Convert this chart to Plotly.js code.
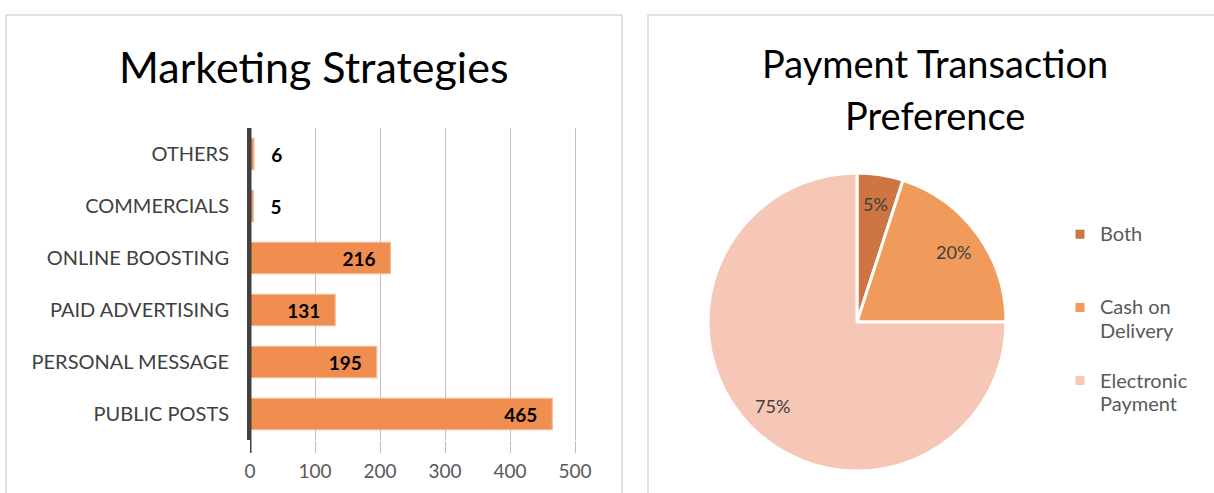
<!DOCTYPE html>
<html>
<head>
<meta charset="utf-8">
<script src="https://cdn.plot.ly/plotly-3.0.1.min.js"></script>
<style>html,body{margin:0;padding:0;background:#fff;}#chart{width:1214px;height:493px;}</style>
</head>
<body>
<div id="chart"></div>
<script>
// Bar chart data (top to bottom)
const strategyCategories = ["OTHERS", "COMMERCIALS", "ONLINE BOOSTING", "PAID ADVERTISING", "PERSONAL MESSAGE", "PUBLIC POSTS"];
const strategyCounts = [6, 5, 216, 131, 195, 465];
const xTickValues = [0, 100, 200, 300, 400, 500];

// Pie chart data
const paymentLabels = ["Both", "Cash on<br>Delivery", "Electronic<br>Payment"];
const paymentShares = [5, 20, 75];

const W = 1214, H = 493;
const px = v => v / W;
const py = v => 1 - v / H;
const FONT = "Lato, 'Open Sans', sans-serif";

// label padding: small bars get label outside with gap, big bars inside with end padding
const barText = strategyCounts.map(v => v < 50 ? "\u2003" + v : v + "\u2002\u2009");

const barTrace = {
  type: "bar",
  orientation: "h",
  y: strategyCategories,
  x: strategyCounts,
  xaxis: "x", yaxis: "y",
  marker: { color: "#EF8E4F", line: { color: "#F6B893", width: 1.2 } },
  width: 0.6,
  text: barText,
  textposition: strategyCounts.map(v => v < 50 ? "outside" : "inside"),
  insidetextanchor: "end",
  textangle: 0,
  constraintext: "none",
  insidetextfont: { family: FONT, size: 19, color: "#000", weight: "bold" },
  outsidetextfont: { family: FONT, size: 19, color: "#000", weight: "bold" },
  cliponaxis: false,
  hoverinfo: "x+y",
  showlegend: false
};

// legend: blank line keeps entries evenly spaced like the original
const legendText = paymentLabels.map(l => {
  const lines = l.split("<br>");
  const body = lines.map(s => "<span style='font-size:20px'>" + s + "</span>").join("<br>");
  return lines.length < 3 ? body + "<br> ".repeat(3 - lines.length) : body;
});

const pieDomain = { x: [px(708), px(1006)], y: [py(471), py(173)] };

const pieTrace = {
  type: "pie",
  labels: legendText,
  values: paymentShares,
  sort: false,
  direction: "clockwise",
  rotation: 0,
  domain: pieDomain,
  marker: { colors: ["#CD7543", "#F09B5C", "#F6C7B6"], line: { color: "#ffffff", width: 3 } },
  textinfo: "none",
  hoverinfo: "percent",
  showlegend: true
};

// percentage labels placed at 0.8 radius along each slice's mid-angle
const cxPx = (pieDomain.x[0] + pieDomain.x[1]) / 2 * W;
const cyPx = (1 - (pieDomain.y[0] + pieDomain.y[1]) / 2) * H;
const rPx = Math.min((pieDomain.x[1] - pieDomain.x[0]) * W, (pieDomain.y[1] - pieDomain.y[0]) * H) / 2;
const total = paymentShares.reduce((a, b) => a + b, 0);
let cum = 0;
const pctAnnotations = paymentShares.map(v => {
  const mid = (cum + v / 2) / total * 2 * Math.PI;
  cum += v;
  const ax = cxPx + 0.8 * rPx * Math.sin(mid);
  const ay = cyPx - 0.8 * rPx * Math.cos(mid);
  return { text: Math.round(v / total * 100) + "%", xref: "paper", yref: "paper",
    x: ax / W, y: 1 - ay / H, xanchor: "center", yanchor: "middle", showarrow: false,
    font: { family: FONT, size: 18, color: "#404040" } };
});

const layout = {
  width: W, height: H,
  margin: { l: 0, r: 0, t: 0, b: 0 },
  paper_bgcolor: "#fff",
  plot_bgcolor: "rgba(0,0,0,0)",
  font: { family: FONT, color: "#404040" },
  bargap: 0.4,
  xaxis: {
    domain: [px(250), px(578.9)],
    range: [0, 506],
    tickvals: xTickValues,
    showgrid: true, gridcolor: "#BFBFBF", gridwidth: 1,
    zeroline: false,
    showline: false,
    ticks: "outside", ticklen: 12, tickcolor: "#BFBFBF", tickwidth: 1,
    tickfont: { family: FONT, size: 19, color: "#595959" },
    ticklabelstandoff: 2,
    fixedrange: true
  },
  yaxis: {
    domain: [py(440), py(128)],
    autorange: "reversed",
    type: "category",
    showgrid: false,
    zeroline: false,
    showline: true, linecolor: "#404040", linewidth: 3,
    ticks: "",
    tickfont: { family: FONT, size: 20, color: "#404040" },
    ticklabelstandoff: 14,
    fixedrange: true
  },
  legend: {
    x: px(1060), xanchor: "left",
    y: py(216), yanchor: "top",
    valign: "top",
    font: { family: FONT, size: 18, color: "#595959" },
    bgcolor: "rgba(0,0,0,0)",
    itemclick: false, itemdoubleclick: false
  },
  shapes: [
    { type: "rect", xref: "paper", yref: "paper", x0: px(6), x1: px(622), y0: py(515), y1: py(15),
      line: { color: "#D9D9D9", width: 1.5 }, fillcolor: "rgba(0,0,0,0)", layer: "below" },
    { type: "rect", xref: "paper", yref: "paper", x0: px(648), x1: px(1240), y0: py(515), y1: py(15),
      line: { color: "#D9D9D9", width: 1.5 }, fillcolor: "rgba(0,0,0,0)", layer: "below" },
    { type: "line", xref: "x", yref: "paper", x0: 0, x1: 0, y0: py(453), y1: py(128),
      line: { color: "#404040", width: 3 } }
  ],
  annotations: [
    { text: "Marketing Strategies", xref: "paper", yref: "paper", x: px(314), y: py(67),
      xanchor: "center", yanchor: "middle", showarrow: false,
      font: { family: FONT, size: 43, color: "#000" } },
    { text: "Payment Transaction", xref: "paper", yref: "paper", x: px(935), y: py(63),
      xanchor: "center", yanchor: "middle", showarrow: false,
      font: { family: FONT, size: 38, color: "#000" } },
    { text: "Preference", xref: "paper", yref: "paper", x: px(935), y: py(115),
      xanchor: "center", yanchor: "middle", showarrow: false,
      font: { family: FONT, size: 38, color: "#000" } }
  ].concat(pctAnnotations)
};

Plotly.newPlot("chart", [barTrace, pieTrace], layout, { displayModeBar: false });
</script>
</body>
</html>
